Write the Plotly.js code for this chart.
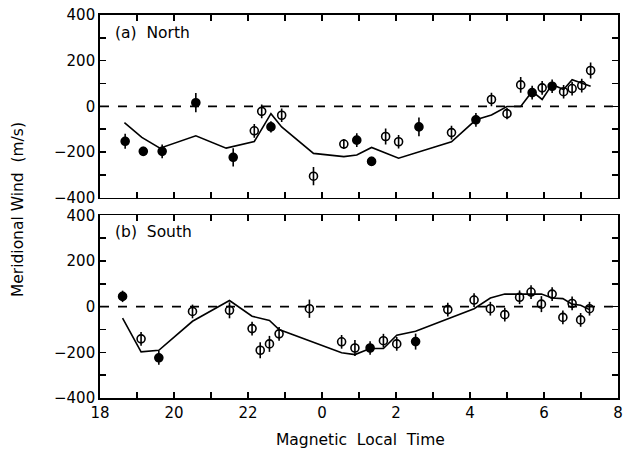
<!DOCTYPE html>
<html>
<head>
<meta charset="utf-8">
<script src="https://cdn.plot.ly/plotly-3.0.1.min.js"></script>
<style>html,body{margin:0;padding:0;background:#fff;}#chart{width:624px;height:453px;}</style>
</head>
<body>
<div id="chart"></div>
<script>
// Magnetic local time (hours) of each observation
const northMLT = [18.68,19.17,19.68,20.59,21.6,22.17,22.37,22.62,22.91,23.77,0.59,0.94,1.34,1.72,2.07,2.62,3.5,4.16,4.58,5.0,5.37,5.68,5.95,6.22,6.53,6.76,7.02,7.26];
const northWind = [-153,-197,-197,16,-223,-107,-22,-90,-39,-306,-165,-148,-241,-132,-155,-90,-115,-59,30,-32,94,60,81,88,64,78,91,157];
const northErr = [33,20,30,42,40,30,30,25,30,40,22,30,20,35,30,41,30,30,30,25,35,30,30,30,30,30,30,35];
const northFilled = [1,1,1,1,1,0,0,1,0,0,0,1,1,0,0,1,0,1,0,0,0,1,0,1,0,0,0,0];
const northModelMLT = [18.66,19.13,19.62,20.59,21.41,22.17,22.62,22.91,23.77,0.59,0.94,1.34,2.07,3.5,4.16,4.58,5.0,5.37,5.68,5.95,6.22,6.53,6.76,7.02,7.26];
const northModel = [-71,-136,-183,-129,-183,-154,-32,-90,-206,-220,-213,-180,-227,-155,-59,-38,-1,-1,65,30,96,74,117,103,88];

const southMLT = [18.61,19.11,19.59,20.5,21.5,22.11,22.33,22.58,22.84,23.66,0.53,0.89,1.3,1.66,2.02,2.53,3.4,4.11,4.55,4.94,5.34,5.65,5.93,6.22,6.51,6.76,6.99,7.23];
const southWind = [45,-141,-224,-21,-16,-96,-191,-163,-119,-9,-154,-181,-181,-149,-163,-153,-13,29,-9,-35,41,64,11,55,-47,14,-58,-9];
const southErr = [25,30,30,30,35,30,35,35,30,40,30,35,30,30,30,35,30,30,30,30,30,30,35,30,30,30,30,30];
const southFilled = [1,0,1,0,0,0,0,0,0,0,0,0,1,0,0,1,0,0,0,0,0,0,0,0,0,0,0,0];
const southModelMLT = [18.61,19.11,19.59,20.5,21.5,22.11,22.58,22.84,0.53,0.89,1.3,1.66,2.02,2.53,4.11,4.55,4.94,5.34,5.65,5.93,6.22,6.51,6.76,6.99,7.23];
const southModel = [-50,-198,-191,-64,27,-42,-60,-100,-202,-210,-183,-183,-125,-108,-9,38,55,55,58,55,38,35,11,6,-13];

const tickVals = [18,20,22,24,26,28,30,32];
const tickText = ['18','20','22','0','2','4','6','8'];

// unwrap MLT across midnight onto a continuous 18..32 axis
const unwrap = h => (h < 12 ? h + 24 : h);

function pointTraces(mlt, wind, err, filled, xa, ya) {
  const out = [];
  [1, 0].forEach(f => {
    const idx = filled.map((v, i) => v === f ? i : -1).filter(i => i >= 0);
    out.push({
      type: 'scatter', mode: 'markers', xaxis: xa, yaxis: ya,
      x: idx.map(i => unwrap(mlt[i])), y: idx.map(i => wind[i]),
      error_y: {type: 'data', array: idx.map(i => err[i]), visible: true, color: '#000', thickness: 1.6, width: 0},
      marker: {symbol: f ? 'circle' : 'circle-open', size: 8, color: '#000', line: {color: '#000', width: 1.6}},
      showlegend: false, hoverinfo: 'skip'
    });
  });
  return out;
}

const data = [
  {type: 'scatter', mode: 'lines', xaxis: 'x', yaxis: 'y', x: northModelMLT.map(unwrap), y: northModel,
   line: {color: '#000', width: 1.6}, showlegend: false, hoverinfo: 'skip'},
  {type: 'scatter', mode: 'lines', xaxis: 'x2', yaxis: 'y2', x: southModelMLT.map(unwrap), y: southModel,
   line: {color: '#000', width: 1.6}, showlegend: false, hoverinfo: 'skip'},
  ...pointTraces(northMLT, northWind, northErr, northFilled, 'x', 'y'),
  ...pointTraces(southMLT, southWind, southErr, southFilled, 'x2', 'y2')
];

const font = {family: 'DejaVu Sans, sans-serif', size: 15, color: '#000'};
const titleFont = {family: 'DejaVu Sans, sans-serif', size: 15.5, color: '#000'};
const xBase = {
  range: [18, 32], tickvals: tickVals, ticktext: tickText, ticks: 'inside', ticklen: 6, tickwidth: 1.5,
  tickcolor: '#000', showline: true, linecolor: '#000', linewidth: 1.8, mirror: 'allticks',
  showgrid: false, zeroline: false, tickfont: font,
  minor: {dtick: 1, tick0: 18, ticks: 'inside', ticklen: 6, tickwidth: 1.5, tickcolor: '#000', showgrid: false}
};
const yBase = {
  range: [-400, 400], tickvals: [-400,-200,0,200,400], ticks: 'inside', ticklen: 6, tickwidth: 1.5,
  tickcolor: '#000', showline: true, linecolor: '#000', linewidth: 1.8, mirror: 'allticks',
  showgrid: false, zeroline: false, tickfont: font,
  minor: {dtick: 100, tick0: 0, ticks: 'inside', ticklen: 6, tickwidth: 1.5, tickcolor: '#000', showgrid: false}
};

const layout = {
  width: 624, height: 453,
  margin: {l: 100, r: 6, t: 15, b: 55},
  paper_bgcolor: '#fff', plot_bgcolor: '#fff',
  font: font,
  xaxis: Object.assign({}, xBase, {anchor: 'y', showticklabels: false}),
  yaxis: Object.assign({}, yBase, {domain: [0.523, 1], anchor: 'x'}),
  xaxis2: Object.assign({}, xBase, {anchor: 'y2', matches: 'x'}),
  yaxis2: Object.assign({}, yBase, {domain: [0, 0.477], anchor: 'x2'}),
  shapes: [
    {type: 'line', xref: 'x domain', yref: 'y', x0: 0, x1: 1, y0: 0, y1: 0, line: {color: '#000', width: 1.6, dash: 'dash'}},
    {type: 'line', xref: 'x2 domain', yref: 'y2', x0: 0, x1: 1, y0: 0, y1: 0, line: {color: '#000', width: 1.6, dash: 'dash'}}
  ],
  annotations: [
    {text: '(a)  North', xref: 'paper', yref: 'paper', x: 0.025, y: 0.953, xanchor: 'left', yanchor: 'middle', showarrow: false, font: titleFont},
    {text: '(b)  South', xref: 'paper', yref: 'paper', x: 0.025, y: 0.433, xanchor: 'left', yanchor: 'middle', showarrow: false, font: titleFont},
    {text: 'Meridional Wind  (m/s)', xref: 'paper', yref: 'paper', x: -0.158, y: 0.491, xanchor: 'center', yanchor: 'middle', textangle: -90, showarrow: false, font: titleFont},
    {text: 'Magnetic  Local  Time', xref: 'paper', yref: 'paper', x: 0.503, y: -0.11, xanchor: 'center', yanchor: 'middle', showarrow: false, font: titleFont}
  ]
};

Plotly.newPlot('chart', data, layout, {staticPlot: true, displayModeBar: false});
</script>
</body>
</html>
